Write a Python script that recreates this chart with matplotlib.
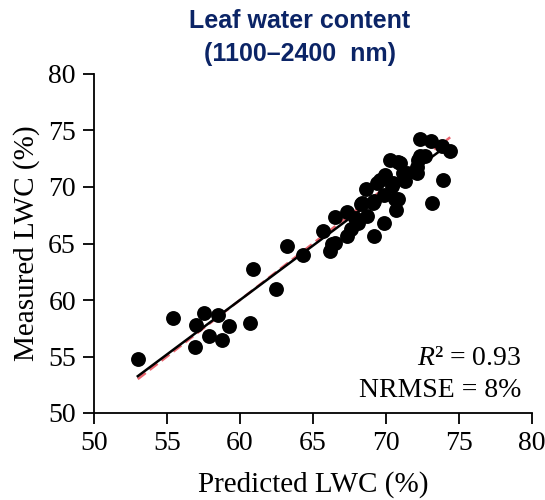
import numpy as np
import matplotlib.pyplot as plt

# predicted vs measured leaf water content (%)
predicted = [53.0, 55.4, 56.95, 57.0, 57.55, 57.85, 58.5, 58.75, 59.25, 60.7,
             60.9, 62.5, 63.2, 64.35, 65.7, 66.2, 66.5, 66.5, 66.3, 67.3,
             67.3, 67.6, 67.9, 68.1, 68.3, 68.65, 68.7, 68.35, 69.2, 69.1,
             69.15, 69.4, 69.85, 69.85, 69.95, 69.6, 70.3, 70.4, 70.5, 70.7,
             70.6, 70.85, 70.85, 70.95, 71.2, 71.3, 71.45, 72.1, 72.1, 72.2,
             72.3, 72.35, 72.7, 73.1, 73.15, 73.85, 73.9, 74.4]
measured = [54.8, 58.4, 55.8, 57.8, 58.85, 56.85, 58.7, 56.45, 57.7, 58.0,
            62.7, 61.0, 64.75, 64.0, 66.15, 64.3, 65.05, 67.35, 65.0, 65.7,
            67.75, 66.3, 67.25, 66.8, 68.5, 69.8, 67.45, 68.6, 65.7, 68.6,
            68.75, 70.35, 66.8, 69.3, 71.1, 70.6, 72.4, 70.05, 70.35, 68.0,
            68.9, 68.9, 72.25, 72.1, 71.2, 70.5, 71.2, 71.2, 71.8, 72.4,
            74.25, 72.7, 72.7, 74.1, 68.6, 73.6, 70.6, 73.2]

fit_slope = 0.963
fit_intercept = 2.22
fit_range = [53.0, 73.6]
one_to_one = [53.0, 74.4]

plt.rcParams['font.family'] = 'Liberation Serif'
plt.rcParams['mathtext.fontset'] = 'custom'
plt.rcParams['mathtext.it'] = 'Liberation Serif:italic'
plt.rcParams['mathtext.rm'] = 'Liberation Serif'

fig = plt.figure(figsize=(5.45, 5.0), dpi=100)
ax = fig.add_axes([0.1725, 0.174, 0.8035, 0.678])

ax.scatter(predicted, measured, s=115, color='black', zorder=3, linewidths=0)
ax.plot(one_to_one, one_to_one, color='#e8646e', lw=1.8, ls=(0, (4, 2)), zorder=2)
fx = np.array(fit_range)
ax.plot(fx, fit_slope * fx + fit_intercept, color='black', lw=1.8, zorder=4)

ax.set_xlim(50, 80)
ax.set_ylim(50, 80)
ax.set_xticks(range(50, 81, 5))
ax.set_yticks(range(50, 81, 5))
ax.spines['top'].set_visible(False)
ax.spines['right'].set_visible(False)
ax.spines['left'].set_linewidth(1.3)
ax.spines['bottom'].set_linewidth(1.3)
ax.tick_params(length=8, width=1.3, labelsize=20, direction='out', pad=5)

ax.set_xlabel('Predicted LWC (%)', fontsize=21, labelpad=11)
ax.set_ylabel('Measured LWC (%)', fontsize=21, labelpad=6)

ax.text(0.975, 0.125, '$\\mathit{R}$² = 0.93', transform=ax.transAxes,
        ha='right', va='bottom', fontsize=20)
ax.text(0.975, 0.03, 'NRMSE = 8%', transform=ax.transAxes,
        ha='right', va='bottom', fontsize=20)

fig.text(0.55, 0.925, 'Leaf water content\n(1100\u20132400  nm)', ha='center',
         va='center', fontsize=18, fontweight='bold', color='#0b2466',
         family='Liberation Sans', linespacing=1.5)

fig.savefig('out.png', dpi=100)
